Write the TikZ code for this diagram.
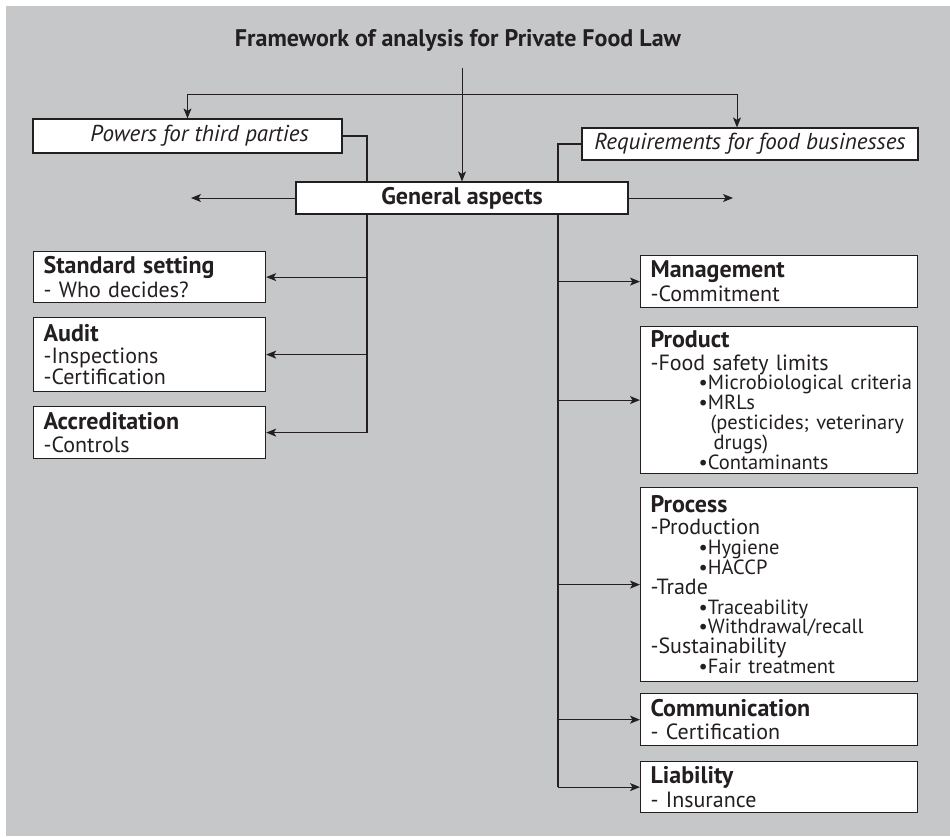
\documentclass[tikz,border=0pt]{standalone}
\usepackage{fontspec}
\setmainfont{PT Sans}
\usetikzlibrary{arrows.meta,backgrounds}
\definecolor{panel}{HTML}{C6C7C9}
\definecolor{ink}{HTML}{231F20}
\pgfdeclarelayer{wires}
\pgfsetlayers{background,wires,main}
\newcommand\boxhead[1]{{\fontsize{24}{19.8}\selectfont\bfseries #1}\\[2.4pt]}
\newcommand\itm[1]{\hspace*{48pt}\mbox{\fontsize{20.5}{19.8}\selectfont\textbullet#1}}
\tikzset{
  arr/.style={-{Stealth[length=10pt,width=8pt,inset=2.5pt]}, line width=1pt, draw=ink},
  link/.style={line width=1.6pt, draw=ink},
  headbox/.style={draw=ink, fill=white, line width=1.2pt, text=ink, inner sep=0pt},
  itembox/.style={draw=ink, fill=white, line width=1.2pt, text=ink, anchor=north west,
    align=left, inner xsep=10pt, inner ysep=2pt, font=\fontsize{22}{19.8}\selectfont},
}
\begin{document}
\begin{tikzpicture}[x=1pt,y=-1pt]
\useasboundingbox (0,0) rectangle (950,836);
\begin{scope}[on background layer]
  \fill[white] (0,0) rectangle (950,836);
  \fill[panel] (6,6) rectangle (950,836);
\end{scope}

% title and the three top boxes
\node[text=ink, font=\fontsize{24}{28}\selectfont\bfseries] (title) at (458,40) {Framework of analysis for Private Food Law};
\node[headbox, minimum width=309pt, minimum height=34pt, font=\fontsize{23}{26}\selectfont\itshape] (powers) at (187.5,136) {\hspace*{24pt}Powers for third parties};
\node[headbox, minimum width=336pt, minimum height=32pt, font=\fontsize{23}{26}\selectfont\itshape] (req) at (750,144) {Requirements for food businesses};
\node[headbox, minimum width=332pt, minimum height=32pt, font=\fontsize{24}{28}\selectfont\bfseries] (general) at (462,198) {General aspects};

% left column
\node[itembox, text width=212pt, minimum height=51pt] (standard) at (33,251) {\boxhead{Standard setting}- Who decides?};
\node[itembox, text width=212pt, minimum height=74pt] (audit) at (33,317) {\boxhead{Audit}-Inspections\\-Certification};
\node[itembox, text width=212pt, minimum height=52pt] (accred) at (33,406) {\boxhead{Accreditation}-Controls};

% right column
\node[itembox, text width=257pt, minimum height=52pt] (management) at (640,255) {\boxhead{Management}-Commitment};
\node[itembox, text width=257pt, minimum height=147pt] (product) at (640,326) {\boxhead{Product}-Food safety limits\\\itm{Microbiological criteria}\\\itm{MRLs}\\\hspace*{60pt}\mbox{\fontsize{20.5}{19.8}\selectfont(pesticides; veterinary}\\\hspace*{63pt}{\fontsize{20.5}{19.8}\selectfont drugs)}\\\itm{Contaminants}};
\node[itembox, text width=257pt, minimum height=194pt] (process) at (640,487) {\boxhead{Process}-Production\\\itm{Hygiene}\\\itm{HACCP}\\-Trade\\\itm{Traceability}\\\itm{Withdrawal/recall}\\-Sustainability\\\itm{Fair treatment}};
\node[itembox, text width=257pt, minimum height=52pt] (communication) at (640,693) {\boxhead{Communication}- Certification};
\node[itembox, text width=257pt, minimum height=51pt] (liability) at (640,761) {\boxhead{Liability}- Insurance};

\coordinate (drop) at (462,68);
\coordinate (split) at (462,94);
\coordinate (gl) at (191,198);
\coordinate (gr) at (733,198);
\coordinate (lbus) at (367,0);
\coordinate (rbus) at (558,0);

% connectors, behind the boxes
\begin{pgfonlayer}{wires}
  \draw[arr] (drop) -- (general);
  \draw[arr] (split) -| (powers.north);
  \draw[arr] (split) -| ([xshift=-13pt]req.north);
  \draw[arr] (general) -- (gl);
  \draw[arr] (general) -- (gr);
  \draw[link] (powers.east) -| (lbus |- accred.east);
  \draw[link] (req.west) -| (rbus |- liability.west);
  \foreach \n in {standard,audit,accred}
    \draw[arr] (lbus |- \n.east) -- (\n.east);
  \foreach \n in {management,product,process,communication,liability}
    \draw[arr] (rbus |- \n.west) -- (\n.west);
\end{pgfonlayer}
\end{tikzpicture}
\end{document}
